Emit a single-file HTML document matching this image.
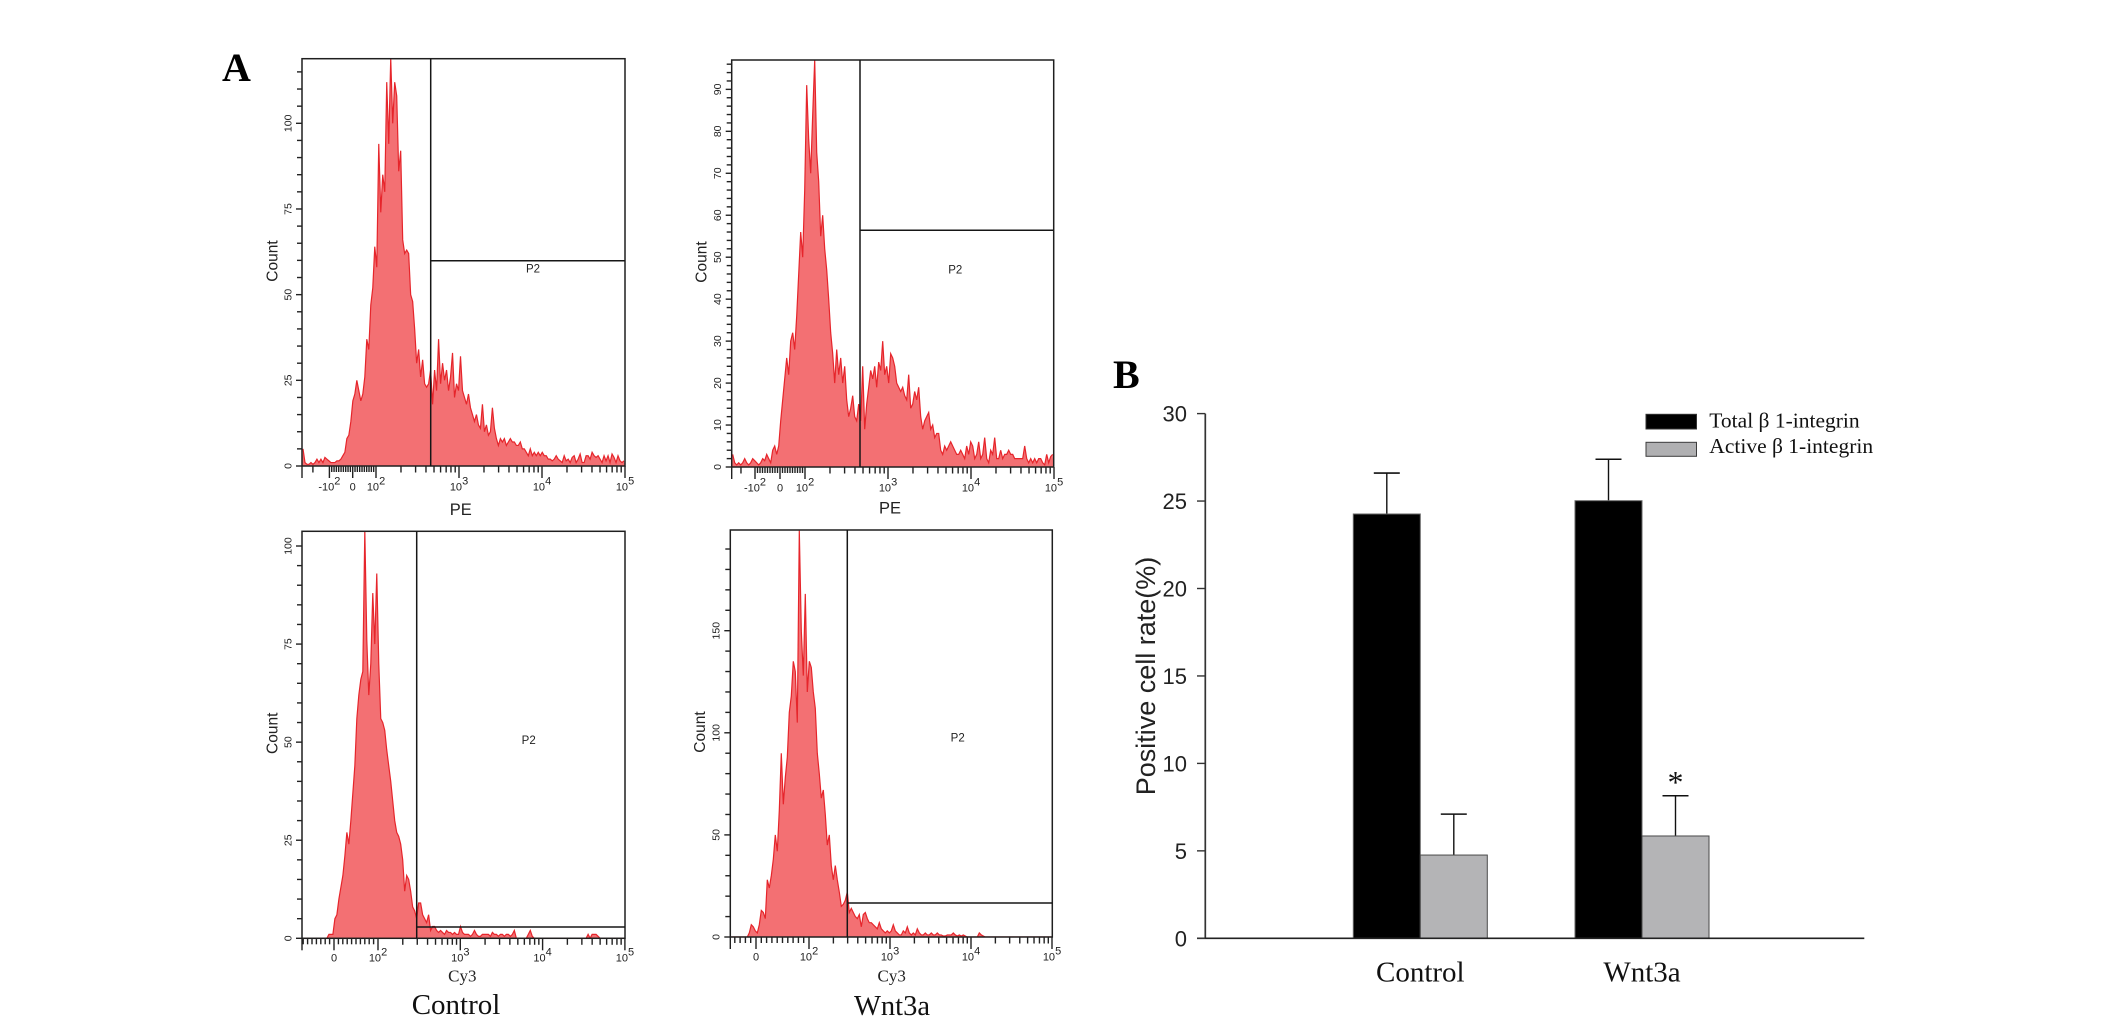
<!DOCTYPE html>
<html lang="en">
<head>
<meta charset="utf-8">
<title>Flow cytometry histograms and positive cell rate</title>
<style>
html,body{margin:0;padding:0;background:#fff;width:2126px;height:1031px;overflow:hidden}
svg{display:block}
.sans{font-family:"Liberation Sans",Arial,sans-serif}
.serif{font-family:"Liberation Serif","Times New Roman",serif}
.soft{filter:blur(0.35px)}
</style>
</head>
<body>
<svg id="fig" xmlns="http://www.w3.org/2000/svg" width="2126" height="1031" viewBox="0 0 2126 1031">
  <rect x="0" y="0" width="2126" height="1031" fill="#fff"/>
  <text class="serif" x="222" y="81" font-size="40" font-weight="bold" fill="#000">A</text>
  <text class="serif" x="1113" y="388" font-size="40" font-weight="bold" fill="#000">B</text>
  <text class="serif" x="456" y="1014" font-size="29" text-anchor="middle" fill="#111">Control</text>
  <text class="serif" x="892" y="1015" font-size="28.5" text-anchor="middle" fill="#111">Wnt3a</text>
</svg>
<script>
// ---------- Histogram data (event counts per channel bin) ----------
var controlPeCounts = [5,1,0.5,0.5,1,0.5,1,2,1,2,1,2.5,2,1.5,1,1,1,1.5,1.5,2,
3,4,8,9,13,19,21,25,22,19,
21,26,37,34,47,52,64,58,94,74,
85,80,112,94,119,100,112,108,86,92,
66,62,63,62,50,48,40,30,34,26,
31,24,23,24,28,18,28,22,37,24,
30,25,28,22,26,33,20,24,22,32,
22,20,18,21,17,15,13,15,12,11,
18,10,12,9,10,17,11,8,6,8,
7,8,6,7,8,7,7,6,6,7,
5,5,4,3,5,3,4,3,4,3,
4,3,3,2,2,1.5,2,3,2,1.5,
1,3,1.5,2,1,2.5,3,1,2,3.5,
1,1,3,3,2,4,3,2.5,3,2,
1,3,1.5,3,1,3.5,2.5,1,3,1.5,1,1.5];
var wntPeCounts = [3,1,0.5,1,0.5,1,2,1,0.5,1,2,1.5,1,0.5,1,2,1.5,3,2,1,4,5,3,
5,11,16,21,26,22,30,
32,28,36,46,56,50,66,91,78,70,
84,97,75,68,55,60,52,47,40,32,
27,20,28,22,26,20,24,16,12,14,
17,12,11,15,11,24,9,15,19,23,
21,24,19,25,23,30,22,24,20,27,
26,24,20,19,18,19,17,16,22,14,
15,18,16,19,12,9,11,12,13,9,
10,7,8,8,4,3,5,4,5,6,
5,4,3,3,4,3,2,5,3,6,
5,2,3,6,2,3,7,2,1,4,
3,7,2,2,4,2,3,3,4,3,
3,2,2,2,2,2,5,2,1,2,
1,2,1,2,2,1,0.5,3,1,2.5,3];
var controlCy3Counts = [0,0,0,0,0,0,0,0,0,0,0,0,0,
1,1,1,5,6,10,13,
16,21,27,24,30,37,44,56,62,66,
68,104,76,62,70,88,75,93,70,56,
55,53,48,44,40,35,30,27,26,24,
20,12,16,15,12,8,7,5,9,9,
6,5,4,6,2,3,3,2,1.5,2,
1.5,1,2,1.5,1.5,1,1.5,1,1,3,
1.5,1,1,1,0.5,1,2,1,0.5,0.5,
1,1,1,1,0.5,1.5,1,1,0.5,1,
1,0.5,1,1,0.5,1,2,0,0,0,
0,0,0,1,2,0.5,0,0,0,0,
0,0,0,0,0,0,0,0,0,0,0,0,0,0,0,0,0,0,0,0,0,0,0,
1,0,1,1,1,0.5,0,0,0,0,0,0,0,0,0,0,0,0,0];
var wntCy3Counts = [0,0,0,0,0,0,0,0,0,
2,6,5,3,2,6,13,
12,9,28,24,
30,38,50,42,62,90,65,78,88,110,
118,135,130,105,199,150,128,168,120,135,
132,120,112,90,80,68,72,60,45,50,
35,28,35,28,22,15,16,18,22,12,
14,12,10,9,11,5,11,12,9,7,
7,6,5,4,7,4,3,2,3,2,
3,6,3,2,1,1,3,2,5,2,
1,2,1,4,2,1,1,2,1,1,
2,1,1,2,1,1,0.5,0.5,1,1,
1,2,1,0.5,1,0.5,1,0.5,0,0,
0,0,0,0,2,1,0.5,0,0,0,
0,0,0,0,0,0,0,0,0,0,0,0,0,0,0,0,0,0,0,0,0,0,0,0,0,0,0,0,0,0,0];

// ---------- Histogram axis labels ----------
var peXTickValues = [-100,0,100,1000,10000,100000];
var peXTickBases = ['-10','0','10','10','10','10'];
var peXTickExponents = ['2','','2','3','4','5'];
var cyXTickValues = [0,100,1000,10000,100000];
var cyXTickBases = ['0','10','10','10','10'];
var cyXTickExponents = ['','2','3','4','5'];
var controlPeYTicks = [0,25,50,75,100];
var wntPeYTicks = [0,10,20,30,40,50,60,70,80,90];
var controlCy3YTicks = [0,25,50,75,100];
var wntCy3YTicks = [0,50,100,150];

// ---------- Bar chart data ----------
var barCategories = ['Control','Wnt3a'];
var totalValues = [24.26,25.02];
var totalErrors = [2.34,2.37];
var activeValues = [4.76,5.85];
var activeErrors = [2.34,2.30];
var barYTicks = [0,5,10,15,20,25,30];
var legendLabels = ['Total \u03B2 1-integrin','Active \u03B2 1-integrin'];

var NS = 'http://www.w3.org/2000/svg';
var fig = document.getElementById('fig');
function mk(tag, attrs, parent, text) {
  var el = document.createElementNS(NS, tag);
  for (var k in attrs) { el.setAttribute(k, attrs[k]); }
  if (text !== undefined) { el.textContent = text; }
  parent.appendChild(el);
  return el;
}

var panels = [
  {id:'control-pe', counts:controlPeCounts, yTicks:controlPeYTicks, minorStep:5, xVals:peXTickValues, xBases:peXTickBases, xExps:peXTickExponents, neg:true,
   left:302, right:625, top:58.7, bottom:466, yUnit:3.427, x0:352.7, x100:376, decade:83, gateX:430.7, gateY:260.7,
   p2x:533, p2y:272.3, countX:277.3, countY:261, tickX:291.7, labelY:490.7, xTitle:'PE', xTitleX:460.8, xTitleY:515, serifTitle:false},
  {id:'wnt3a-pe', counts:wntPeCounts, yTicks:wntPeYTicks, minorStep:2, xVals:peXTickValues, xBases:peXTickBases, xExps:peXTickExponents, neg:true,
   left:731.7, right:1053.7, top:60, bottom:467, yUnit:4.196, x0:780, x100:805, decade:83, gateX:860, gateY:230.3,
   p2x:955.3, p2y:273.3, countX:706.7, countY:262, tickX:721, labelY:491.7, xTitle:'PE', xTitleX:890, xTitleY:513.3, serifTitle:false},
  {id:'control-cy3', counts:controlCy3Counts, yTicks:controlCy3YTicks, minorStep:5, xVals:cyXTickValues, xBases:cyXTickBases, xExps:cyXTickExponents, neg:false,
   left:302, right:625, top:531.3, bottom:938.3, yUnit:3.923, x0:334, x100:378, decade:82.3, gateX:416.7, gateY:927,
   p2x:528.7, p2y:744, countX:277.3, countY:733.3, tickX:291.7, labelY:961.7, xTitle:'Cy3', xTitleX:462.3, xTitleY:981.7, serifTitle:true},
  {id:'wnt3a-cy3', counts:wntCy3Counts, yTicks:wntCy3YTicks, minorStep:10, xVals:cyXTickValues, xBases:cyXTickBases, xExps:cyXTickExponents, neg:false,
   left:730.3, right:1052.3, top:530, bottom:937, yUnit:2.042, x0:756, x100:809, decade:81, gateX:847.3, gateY:903,
   p2x:957.7, p2y:741.7, countX:705, countY:732, tickX:719.3, labelY:960.7, xTitle:'Cy3', xTitleX:891.7, xTitleY:981.7, serifTitle:true}
];

function xScale(p, v) {
  if (v >= -100 && v <= 100) { return p.x0 + (p.x100 - p.x0) * v / 100; }
  if (v > 100) { return p.x100 + (Math.log10(v) - 2) * p.decade; }
  var xNeg = p.x0 - (p.x100 - p.x0);
  return xNeg - (Math.log10(-v) - 2) * (xNeg - p.left);
}
function yScale(p, c) { return p.bottom - c * p.yUnit; }

panels.forEach(function (p) {
  var g = mk('g', {'class': 'soft'}, fig);
  
  

  var clipId = 'clip-' + p.id;
  var defs = mk('defs', {}, g);
  var cp = mk('clipPath', {id: clipId}, defs);
  mk('rect', {x: p.left, y: p.top, width: p.right - p.left, height: p.bottom - p.top}, cp);

  var n = p.counts.length;
  var binW = (p.right - p.left) / n;
  var pts = [];
  p.counts.forEach(function (c, i) {
    var xc = p.left + (i + 0.5) * binW;
    pts.push(xc.toFixed(2) + ',' + yScale(p, c).toFixed(2));
  });
  var area = mk('polygon', {
    points: p.left + ',' + p.bottom + ' ' + pts.join(' ') + ' ' + p.right + ',' + p.bottom,
    fill: '#f37073', 'clip-path': 'url(#' + clipId + ')'
  }, g);
  
  
  var line = mk('polyline', {
    points: pts.join(' '), fill: 'none', stroke: '#e6252b', 'stroke-width': 1.2,
    'clip-path': 'url(#' + clipId + ')'
  }, g);
  
  

  var frame = mk('rect', {x: p.left, y: p.top, width: p.right - p.left, height: p.bottom - p.top,
    fill: 'none', stroke: '#1f1f1f', 'stroke-width': 1.5}, g);
  
  

  var gv = mk('line', {x1: p.gateX, x2: p.gateX, y1: p.top, y2: p.bottom, stroke: '#161616', 'stroke-width': 1.5}, g);
  
  
  var gh = mk('line', {x1: p.gateX, x2: p.right, y1: p.gateY, y2: p.gateY, stroke: '#161616', 'stroke-width': 1.5}, g);
  
  
  var p2 = mk('text', {x: p.p2x, y: p.p2y, 'font-size': 11.5, 'text-anchor': 'middle', fill: '#222', 'class': 'sans'}, g, 'P2');
  
  

  // y minor and major ticks
  var maxC = (p.bottom - p.top) / p.yUnit;
  for (var c = 0; c <= maxC; c += p.minorStep) {
    var ty = yScale(p, c);
    var isMajor = p.yTicks.indexOf(c) >= 0;
    var yt = mk('line', {x1: p.left - (isMajor ? 6 : 5), x2: p.left, y1: ty, y2: ty, stroke: '#222', 'stroke-width': 1.4}, g);
    
    
  }
  p.yTicks.forEach(function (v) {
    var ly = yScale(p, v);
    var t = mk('text', {x: p.tickX, y: ly, 'font-size': 10.5, 'text-anchor': 'middle', fill: '#222', 'class': 'sans',
      transform: 'rotate(-90 ' + p.tickX + ' ' + ly + ')'}, g, String(v));
    
    
  });
  var cnt = mk('text', {x: p.countX, y: p.countY, 'font-size': 15.5, 'text-anchor': 'middle', fill: '#222', 'class': 'sans',
    transform: 'rotate(-90 ' + p.countX + ' ' + p.countY + ')'}, g, 'Count');
  
  

  // x ticks
  function xTick(v, len) {
    var x = xScale(p, v);
    if (x < p.left - 0.5 || x > p.right + 0.5) { return; }
    var tk = mk('line', {x1: x, x2: x, y1: p.bottom, y2: p.bottom + len, stroke: '#222', 'stroke-width': 1.4}, g);
    
    
  }
  for (var v = -100; v <= 100; v += 10) {
    xTick(v, v % 100 === 0 ? 12 : 6);
  }
  [100, 1000, 10000].forEach(function (d) {
    for (var m = 2; m <= 9; m++) { xTick(d * m, 6.5); }
  });
  [1000, 10000, 100000].forEach(function (d) { xTick(d, 12); });
  if (p.neg) {
    xTick(-1000, 12);
    xTick(-400, 6.5);
  } else {
    xTick(-(p.x0 - p.left) / (p.x100 - p.x0) * 100, 12);
  }
  p.xVals.forEach(function (val, i) {
    var t = mk('text', {x: xScale(p, val), y: p.labelY, 'font-size': 11, 'text-anchor': 'middle', fill: '#222', 'class': 'sans'}, g);
    
    
    mk('tspan', {}, t, p.xBases[i]);
    if (p.xExps[i]) { mk('tspan', {dy: -6, 'font-size': 11}, t, p.xExps[i]); }
  });
  var xt = mk('text', {x: p.xTitleX, y: p.xTitleY, 'font-size': p.serifTitle ? 17 : 16.5, 'text-anchor': 'middle', fill: '#222',
    'class': p.serifTitle ? 'serif' : 'sans'}, g, p.xTitle);
  
  
});

// ---------- Bar chart ----------
var bar = mk('g', {}, fig);


var axisBottom = 938.3, axisLeft = 1205.3, pxPerUnit = 17.49;
var groupStart = 1420.3, groupGap = 221.7, barW = 67;
function by(v) { return axisBottom - v * pxPerUnit; }
function groupX(i) { return groupStart + i * groupGap; }

function drawBar(i, value, err, isActive) {
  var cx = groupX(i);
  var x = isActive ? cx : cx - barW;
  var midX = x + barW / 2;
  var eb = mk('line', {x1: midX, x2: midX, y1: by(value), y2: by(value + err), stroke: '#111', 'stroke-width': 1.4}, bar);
  
  
  var cap = mk('line', {x1: midX - 13, x2: midX + 13, y1: by(value + err), y2: by(value + err), stroke: '#111', 'stroke-width': 1.6}, bar);
  
  
  var r = mk('rect', {x: x, y: by(value), width: barW, height: value * pxPerUnit,
    fill: isActive ? '#b4b4b6' : '#000', stroke: isActive ? '#4a4a4a' : '#666', 'stroke-width': 1}, bar);
  
  
}
barCategories.forEach(function (cat, i) {
  drawBar(i, totalValues[i], totalErrors[i], false);
  drawBar(i, activeValues[i], activeErrors[i], true);
  var t = mk('text', {x: groupX(i), y: 981.7, 'font-size': 29, 'text-anchor': 'middle', fill: '#111', 'class': 'serif'}, bar, cat);
  
  
});

var yAxis = mk('line', {x1: axisLeft, x2: axisLeft, y1: by(30), y2: axisBottom, stroke: '#333', 'stroke-width': 1.7}, bar);


var xAxis = mk('line', {x1: 1197, x2: 1864.3, y1: axisBottom, y2: axisBottom, stroke: '#222', 'stroke-width': 1.7}, bar);


barYTicks.forEach(function (v) {
  var tk = mk('line', {x1: 1197, x2: axisLeft, y1: by(v), y2: by(v), stroke: '#333', 'stroke-width': 1.4}, bar);
  
  
  var lb = mk('text', {x: 1187, y: by(v) + 8, 'font-size': 22, 'text-anchor': 'end', fill: '#222', 'class': 'sans'}, bar, String(v));
  
  
});
var yTitle = mk('text', {x: 1155, y: 676, 'font-size': 27, 'text-anchor': 'middle', fill: '#222', 'class': 'sans',
  transform: 'rotate(-90 1155 676)'}, bar, 'Positive cell rate(%)');


var star = mk('text', {x: groupX(1) + barW / 2, y: 793, 'font-size': 32, 'text-anchor': 'middle', fill: '#111', 'class': 'serif'}, bar, '*');



// Legend
var lg = mk('g', {}, bar);


legendLabels.forEach(function (label, i) {
  var sw = mk('rect', {x: 1646, y: i === 0 ? 414.3 : 442.3, width: 50.5, height: i === 0 ? 14.7 : 14,
    fill: i === 0 ? '#000' : '#b0b0b2', stroke: i === 0 ? '#333' : '#3c3c3c', 'stroke-width': 1}, lg);
  
  
  var t = mk('text', {x: 1709.3, y: i === 0 ? 427.7 : 453, 'font-size': 21.5, fill: '#111', 'class': 'serif'}, lg, label);
  
  
});
</script>
</body>
</html>
